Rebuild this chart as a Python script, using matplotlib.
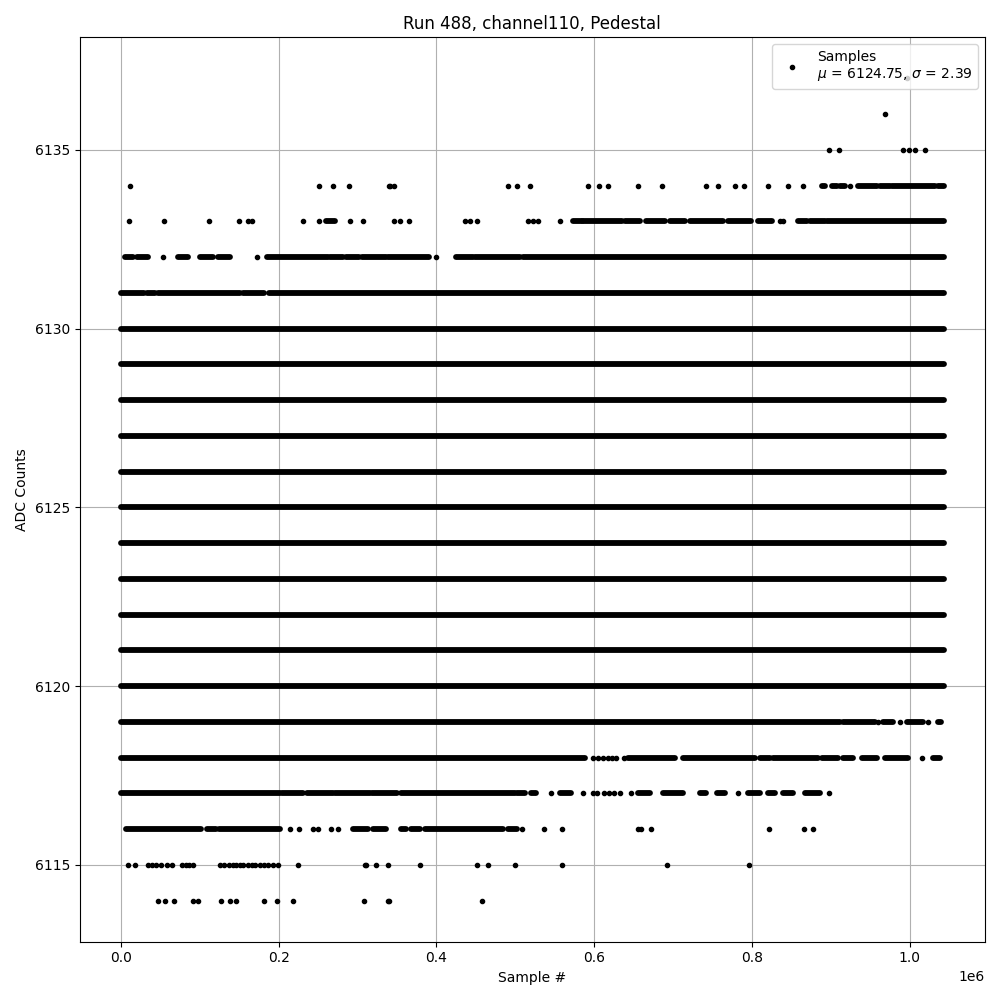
import matplotlib
matplotlib.use('Agg')
import matplotlib.pyplot as plt

# pedestal run 488, channel 110
run = 488
channel = 110
mu = 6124.75
sigma = 2.39
n_samples = 1043000

# ADC levels that are filled over the whole run
full_levels = [6120, 6121, 6122, 6123, 6124, 6125, 6126, 6127, 6128, 6129, 6130]

# (start, end) sample ranges where a level is densely populated
runs_6131 = [(0, 30000), (33000, 43000), (47000, 151000), (155000, 182000), (188000, 1043000)]
runs_6132 = [(5000, 15000), (20000, 35000), (73000, 85000), (100000, 117000), (123000, 138000),
             (185000, 262000), (265000, 282000), (285000, 302000), (306000, 336000),
             (338000, 390000), (425000, 446000), (449000, 506000), (510000, 1043000)]
runs_6133 = [(260500, 271000), (573000, 584000), (586000, 635000), (639000, 658000),
             (666000, 689000), (696000, 715000), (721000, 763000), (769000, 799000),
             (807000, 825000), (858000, 869000), (873000, 892000), (895000, 1043000)]
runs_6134 = [(888000, 892000), (900700, 907000), (911000, 918000), (934000, 958000),
             (962000, 975000), (977000, 1032000), (1035000, 1043000)]
runs_6119 = [(0, 911000), (915500, 955600), (966000, 979000), (996000, 1017000), (1036000, 1040000)]
runs_6118 = [(0, 588000), (642600, 702000), (712600, 803500), (810000, 822500), (826700, 884000),
             (889000, 909000), (915500, 928000), (938700, 957700), (968000, 998000),
             (1029600, 1038000)]
runs_6117 = [(0, 201500), (203700, 231000), (235400, 269000), (271000, 315600), (317700, 349400),
             (355600, 499400), (501500, 512000), (520000, 526700), (556000, 571000),
             (655600, 670000), (687000, 712600), (734000, 742000), (755000, 765500),
             (795000, 810000), (820000, 829000), (839000, 852000), (867000, 886000)]
runs_6116 = [(6300, 102000), (108600, 121000), (125000, 201500), (294400, 313400),
             (320000, 336700), (355600, 362000), (368000, 379000), (385000, 484500),
             (491000, 501500)]

# isolated samples
dots_6137 = [996000]
dots_6136 = [968700]
dots_6135 = [898000, 910000, 991000, 999000, 1007000, 1019000]
dots_6134 = [11800, 251400, 269100, 289400, 340000, 341000, 346000, 491000, 502000, 519000,
             592000, 606000, 617500, 655600, 686000, 741800, 757000, 778500, 789700, 820400,
             845700, 865000, 924000]
dots_6133 = [10600, 54900, 111900, 150000, 161000, 166000, 231000, 251400, 291000, 307000,
             346400, 353600, 365000, 436000, 443000, 452000, 516000, 522000, 529000, 556800,
             835000, 839000]
dots_6132 = [54000, 173000, 399000]
dots_6119 = [960000, 987000, 1023000]
dots_6118 = [599000, 605000, 611000, 617000, 622000, 628000, 638000, 1014700]
dots_6117 = [545000, 586000, 598000, 604000, 612000, 619000, 625000, 633000, 646000,
             782000, 897700]
dots_6116 = [215000, 226000, 243700, 250000, 267000, 275400, 508600, 536400, 559000,
             656000, 659000, 672000, 821700, 866000, 877000]
dots_6115 = [9300, 17700, 34600, 40000, 44000, 51000, 58000, 65500, 77000, 82000, 87000,
             91600, 125500, 131000, 137000, 142000, 146600, 151000, 155000, 161300, 166000,
             170000, 176000, 181000, 186000, 193000, 199400, 225000, 309000, 311000, 324000,
             339000, 379700, 450800, 465500, 500000, 559000, 691600, 796400]
dots_6114 = [47000, 55700, 67600, 91600, 98000, 127600, 138000, 146600, 181700, 198000,
             218400, 308400, 339000, 340000, 458000]

runs = {6116: runs_6116, 6117: runs_6117, 6118: runs_6118, 6119: runs_6119,
        6131: runs_6131, 6132: runs_6132, 6133: runs_6133, 6134: runs_6134}
for lev in full_levels:
    runs[lev] = [(0, n_samples)]
dots = {6114: dots_6114, 6115: dots_6115, 6116: dots_6116, 6117: dots_6117,
        6118: dots_6118, 6119: dots_6119, 6132: dots_6132, 6133: dots_6133,
        6134: dots_6134, 6135: dots_6135, 6136: dots_6136, 6137: dots_6137}

fig, ax = plt.subplots(figsize=(10, 10))

# dense stretches: a run of overlapping '.' markers looks like a thick bar
for lev, segs in runs.items():
    for (x0, x1) in segs:
        ax.hlines(lev, x0, x1, colors='k', linewidth=4.2, capstyle='round')

xs, ys = [], []
for lev, xl in dots.items():
    xs += xl
    ys += [lev] * len(xl)
ax.plot(xs, ys, 'k.', label='Samples\n$\\mu$ = %.2f, $\\sigma$ = %.2f' % (mu, sigma))

ax.set_title('Run %d, channel%d, Pedestal' % (run, channel))
ax.set_xlabel('Sample #')
ax.set_ylabel('ADC Counts')
ax.grid(True)
ax.set_axisbelow(True)
ax.legend(loc='upper right')
plt.tight_layout()
plt.savefig('out.png', dpi=100)
